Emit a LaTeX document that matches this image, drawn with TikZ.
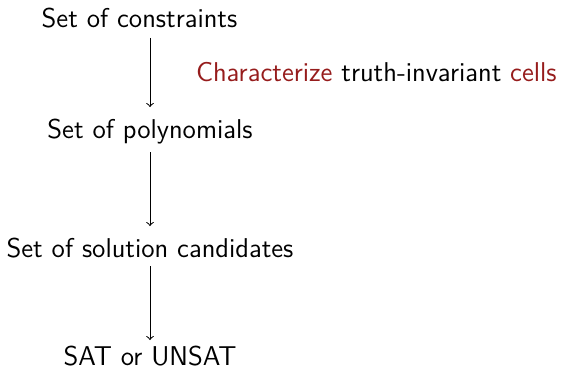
\documentclass[tikz,border=0pt]{standalone}
\usepackage{xcolor}
\definecolor{darkred}{RGB}{150,28,28}
\tikzset{
  lbl/.style={font=\sffamily\fontsize{13.6}{16}\selectfont, inner sep=0pt, anchor=base},
  flow/.style={->, line width=0.5pt}
}
\begin{document}
\begin{tikzpicture}[x=0.5pt,y=-0.5pt]
\useasboundingbox (0,0) rectangle (561,369);
\node[lbl] (c) at (139.5,28) {Set of constraints};
\node[lbl] (p) at (150,138) {Set of polynomials};
\node[lbl] (s) at (150,257) {Set of solution candidates};
\node[lbl] (r) at (150,365.5) {SAT or UNSAT};
\coordinate (a1s) at (150,38);
\coordinate (a1e) at (150,107);
\coordinate (a2s) at (150,152);
\coordinate (a2e) at (150,226);
\coordinate (a3s) at (150,266);
\coordinate (a3e) at (150,340);
\draw[flow] (a1s) -- (a1e);
\draw[flow] (a2s) -- (a2e);
\draw[flow] (a3s) -- (a3e);
\node[lbl, anchor=base east] (t) at (557,82) {\textcolor{darkred}{Characterize} truth-invariant \textcolor{darkred}{cells}};
\end{tikzpicture}
\end{document}
